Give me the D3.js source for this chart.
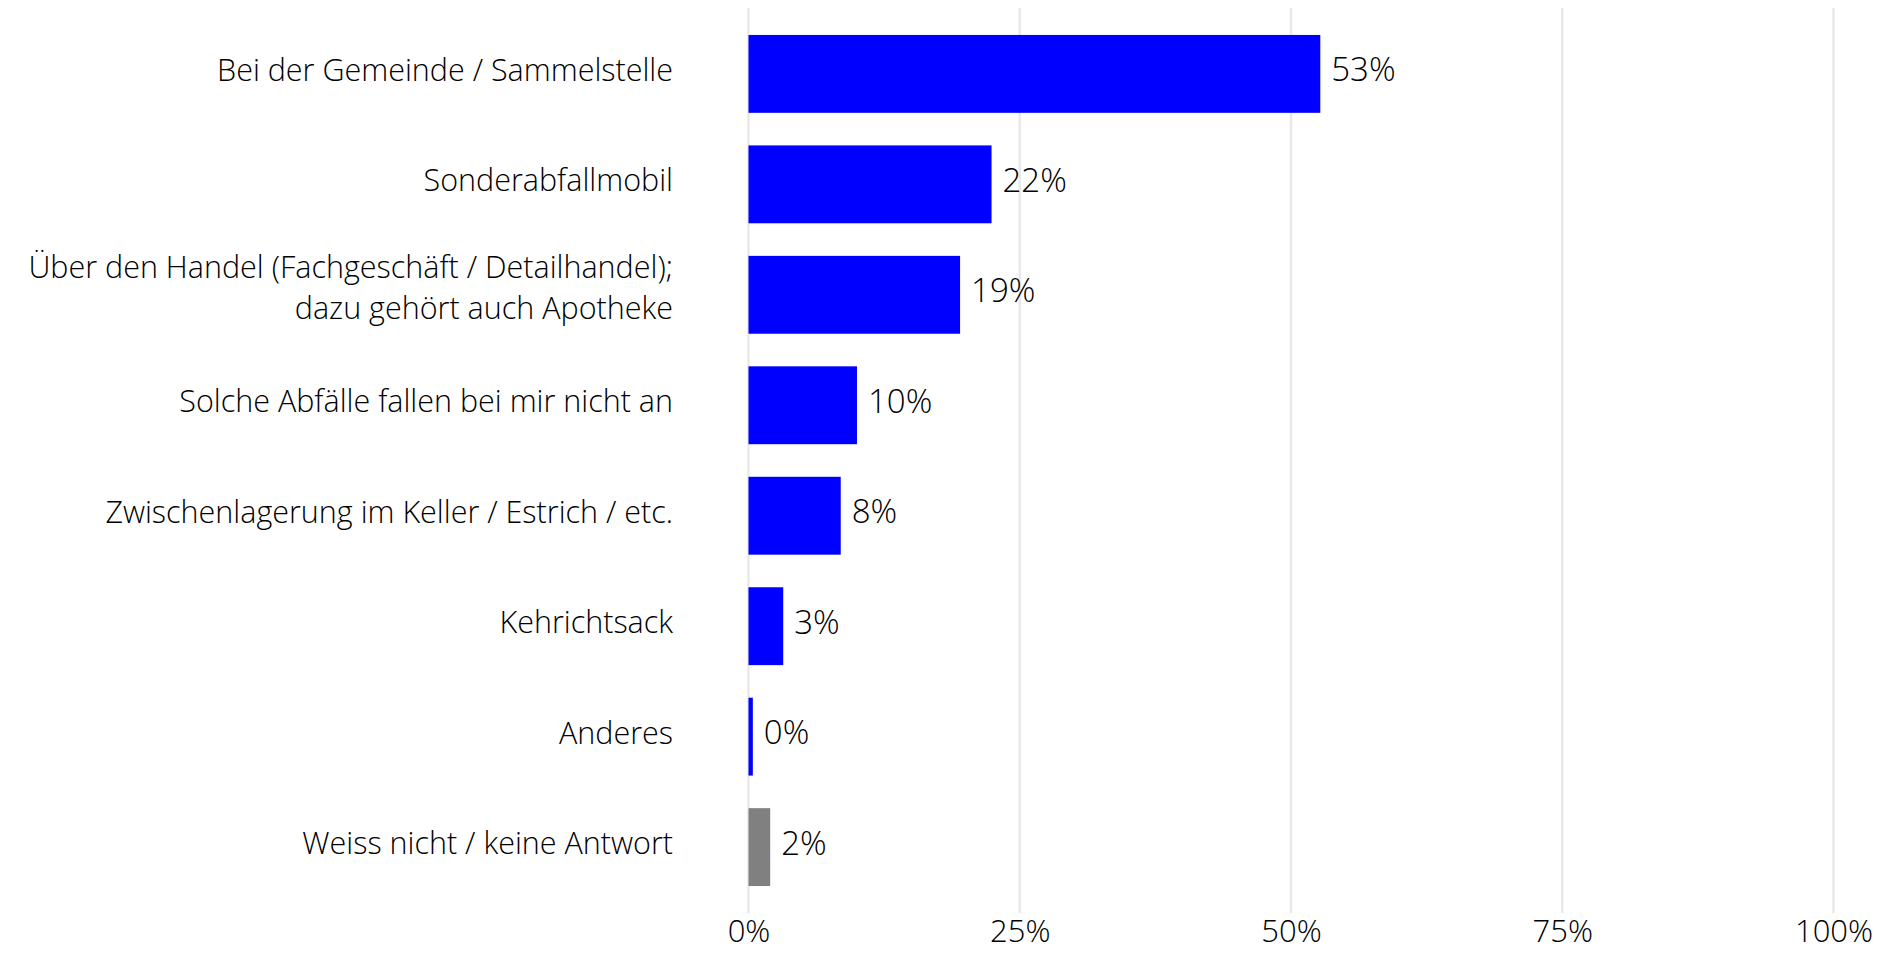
<!DOCTYPE html>
<html>
<head>
<meta charset="utf-8">
<script src="https://cdn.jsdelivr.net/npm/d3@7"></script>
<style>
  html, body { margin: 0; padding: 0; background: #fff; }
  svg text { font-family: "Open Sans", "Noto Sans", sans-serif; font-weight: 300; fill: #000; }
</style>
</head>
<body>
<svg id="chart" width="1896" height="953"></svg>
<script>
const categories = [
  ["Bei der Gemeinde / Sammelstelle"],
  ["Sonderabfallmobil"],
  ["Über den Handel (Fachgeschäft / Detailhandel);", "dazu gehört auch Apotheke"],
  ["Solche Abfälle fallen bei mir nicht an"],
  ["Zwischenlagerung im Keller / Estrich / etc."],
  ["Kehrichtsack"],
  ["Anderes"],
  ["Weiss nicht / keine Antwort"]
];
const values = [52.7, 22.4, 19.5, 10.0, 8.5, 3.2, 0.4, 2.0];
const valueLabels = ["53%", "22%", "19%", "10%", "8%", "3%", "0%", "2%"];
const barColors = ["#0000ff", "#0000ff", "#0000ff", "#0000ff", "#0000ff", "#0000ff", "#0000ff", "#808080"];
const tickValues = [0, 25, 50, 75, 100];
const tickLabels = ["0%", "25%", "50%", "75%", "100%"];

(function () {
const svg = d3.select("#chart");
const mLeft = 748.5, mRight = 1833.5, mTop = 8, mBottom = 913;

const x = d3.scaleLinear().domain([0, 100]).range([mLeft, mRight]);
const y = d3.scaleBand().domain(d3.range(categories.length)).range([mTop, mBottom])
  .paddingInner(0.295).paddingOuter(0.244);

// gridlines
svg.append("g").selectAll("line").data(tickValues).join("line")
  .attr("x1", d => x(d)).attr("x2", d => x(d))
  .attr("y1", mTop).attr("y2", mBottom)
  .attr("stroke", "#e9e9e9").attr("stroke-width", 2.5);

// axis labels
const xAxis = d3.axisBottom(x).tickValues(tickValues).tickFormat((d, i) => tickLabels[i]).tickSize(0).tickPadding(0);
const ax = svg.append("g").attr("transform", `translate(0, ${mBottom})`).call(xAxis);
ax.select(".domain").remove();
ax.selectAll("text").attr("dy", null).attr("y", 17).attr("dominant-baseline", "central")
  .style("font-size", "31px").style("font-family", '"Open Sans", sans-serif').style("font-weight", 300).attr("fill", "#000");

// bars
svg.append("g").selectAll("rect").data(values).join("rect")
  .attr("x", x(0)).attr("y", (d, i) => y(i))
  .attr("width", d => x(d) - x(0)).attr("height", y.bandwidth())
  .attr("fill", (d, i) => barColors[i]);

// value labels
svg.append("g").selectAll("text").data(values).join("text")
  .attr("x", d => x(d) + 11).attr("y", (d, i) => y(i) + y.bandwidth() / 2 - 5)
  .attr("dominant-baseline", "central")
  .style("font-size", "33px")
  .text((d, i) => valueLabels[i]);

// category labels
const lineH = 41;
const cat = svg.append("g").selectAll("text").data(categories).join("text")
  .attr("text-anchor", "end")
  .attr("x", 673)
  .attr("y", (d, i) => y(i) + y.bandwidth() / 2 - (d.length > 1 ? 29 : 5))
  .attr("dominant-baseline", "central")
  .style("font-size", "30.5px");
cat.selectAll("tspan").data(d => d).join("tspan")
  .attr("x", 673)
  .attr("dy", (d, j) => j === 0 ? 0 : lineH)
  .text(d => d);
})();
</script>
</body>
</html>
